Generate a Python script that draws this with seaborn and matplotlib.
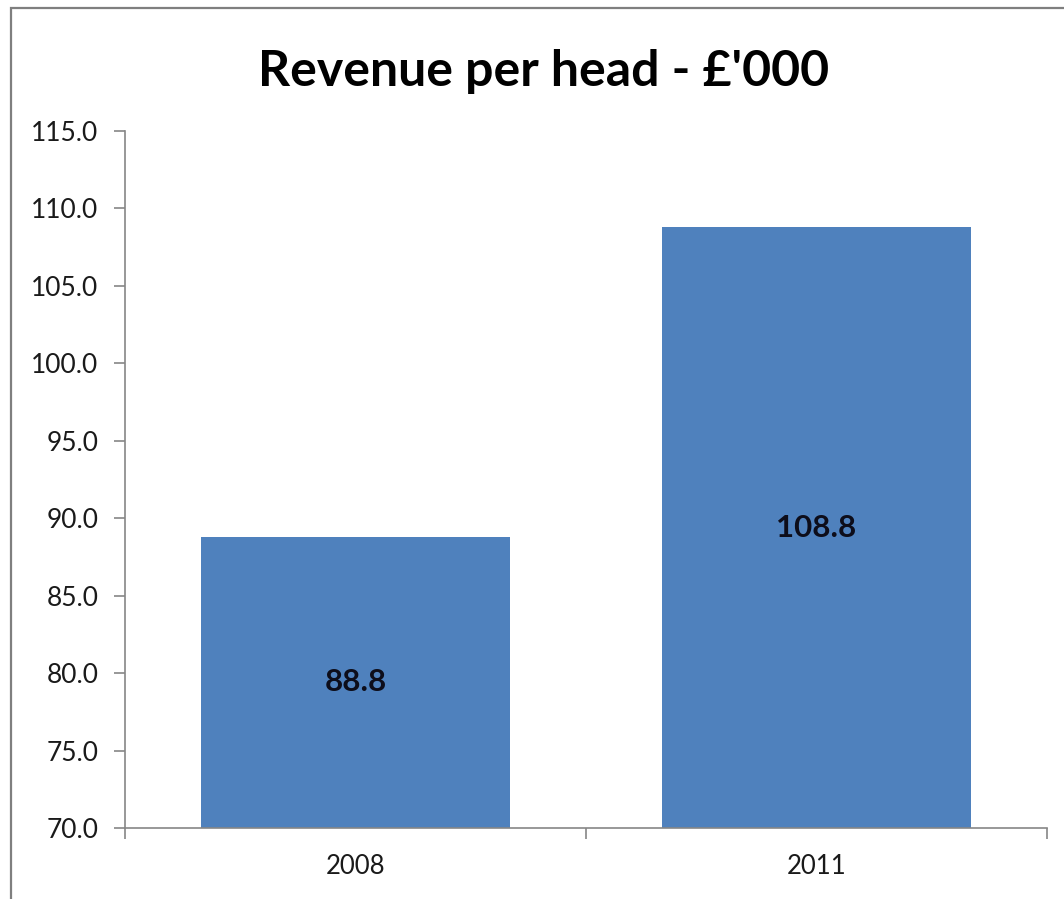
import matplotlib
matplotlib.use("Agg")
import matplotlib.pyplot as plt
from matplotlib.patches import Rectangle
from matplotlib.ticker import FixedLocator, FormatStrFormatter
import seaborn as sns
import pandas as pd

years = ["2008", "2011"]
revenue = [88.8, 108.8]
y_ticks = [70, 75, 80, 85, 90, 95, 100, 105, 110, 115]
title = "Revenue per head - £'000"

BAR_COLOR = "#4F81BD"
AXIS_COLOR = "#868686"

sns.set_style("white")
plt.rcParams["font.family"] = ["Lato", "DejaVu Sans"]

df = pd.DataFrame({"year": years, "revenue": revenue})

fig = plt.figure(figsize=(10.64, 8.99), dpi=100)
ax = fig.add_axes([125 / 1064, 1 - 828 / 899, (1047 - 125) / 1064, (828 - 131) / 899])

sns.barplot(data=df, x="year", y="revenue", color=BAR_COLOR, saturation=1,
            width=0.67, ax=ax, edgecolor="none")

ymin, ymax = y_ticks[0], y_ticks[-1]
ax.set_ylim(ymin, ymax)
ax.set_xlim(-0.5, len(years) - 0.5)
ax.yaxis.set_major_locator(FixedLocator(y_ticks))
ax.yaxis.set_major_formatter(FormatStrFormatter("%.1f"))

# category boundary ticks on the x axis
ax.xaxis.set_minor_locator(FixedLocator([i - 0.5 for i in range(len(years) + 1)]))
ax.tick_params(axis="x", which="major", length=0, pad=19, labelsize=18.5, labelcolor="#1a1a1a")
ax.tick_params(axis="x", which="minor", length=8, width=1.2, color=AXIS_COLOR, direction="out", bottom=True)
ax.tick_params(axis="y", which="major", length=8, width=1.2, color=AXIS_COLOR, direction="out",
               left=True, pad=11, labelsize=19, labelcolor="#1a1a1a")

ax.set_xlabel("")
ax.set_ylabel("")
for side in ("top", "right"):
    ax.spines[side].set_visible(False)
for side in ("left", "bottom"):
    ax.spines[side].set_color(AXIS_COLOR)
    ax.spines[side].set_linewidth(1.2)

# value labels centred in the visible part of each bar
for i, v in enumerate(revenue):
    ax.text(i, (ymin + v) / 2, f"{v:.1f}", ha="center", va="center",
            fontsize=22.5, fontweight="bold", color="#0d0d1a")

fig.text(544 / 1064, 1 - 72 / 899, title, ha="center", va="center",
         fontsize=36, fontweight="bold", color="black")

# chart-area border
fig.patches.append(Rectangle((10.5 / 1064, -0.05), 1.2, 1 - 7.5 / 899 + 0.05,
                             transform=fig.transFigure, fill=False,
                             edgecolor="#7f7f7f", linewidth=1.6))

fig.savefig("out.png", dpi=100)
